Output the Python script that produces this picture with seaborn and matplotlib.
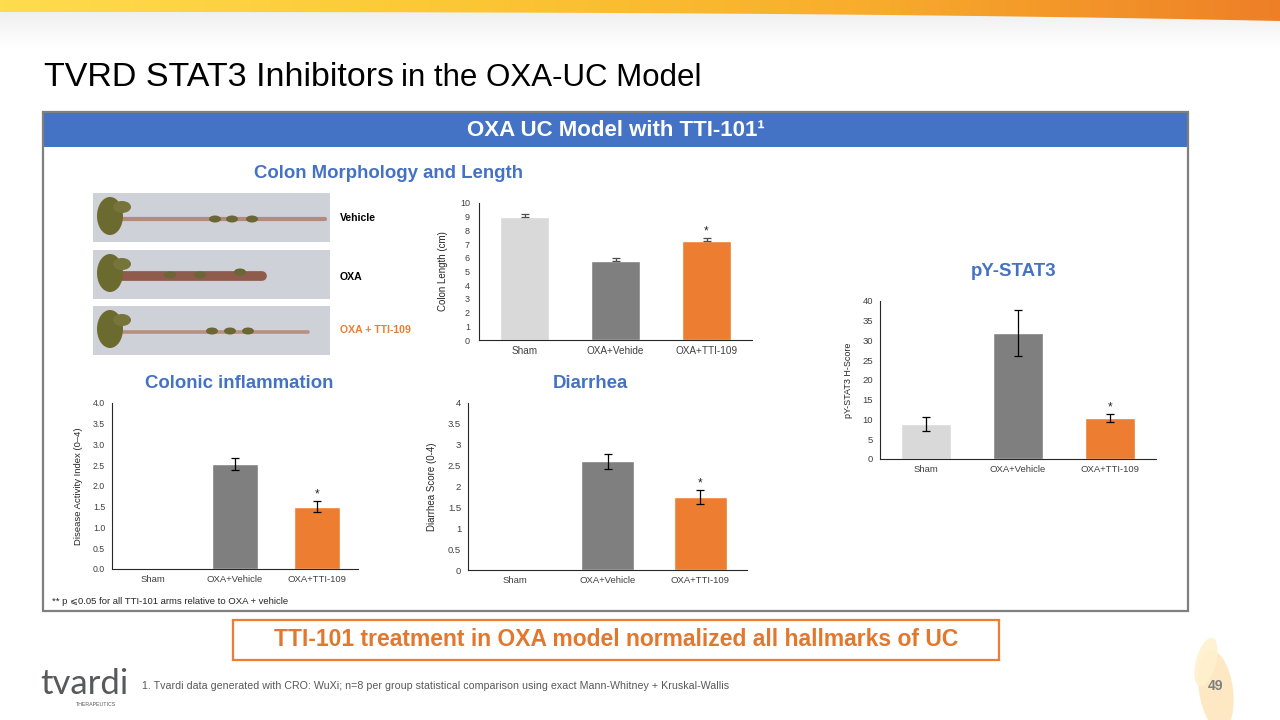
import numpy as np
import pandas as pd
import matplotlib
matplotlib.use("Agg")
import matplotlib.pyplot as plt
import seaborn as sns
from matplotlib.patches import Rectangle, Ellipse, Polygon
from matplotlib.colors import LinearSegmentedColormap

# ---------------- data ----------------
groups_len = ["Sham", "OXA+Vehide", "OXA+TTI-109"]
groups = ["Sham", "OXA+Vehicle", "OXA+TTI-109"]
bar_colors = ["#D9D9D9", "#7F7F7F", "#ED7D31"]

colon_length = [9.0, 5.77, 7.23]
colon_length_err = [0.18, 0.19, 0.19]

dai = [0.0, 2.53, 1.50]
dai_err = [0.0, 0.14, 0.13]

diarrhea = [0.0, 2.61, 1.75]
diarrhea_err = [0.0, 0.18, 0.17]

pystat3 = [8.9, 31.9, 10.35]
pystat3_err = [1.8, 5.7, 1.0]

significant = [False, False, True]

dai_ticks = [0.0, 0.5, 1.0, 1.5, 2.0, 2.5, 3.0, 3.5, 4.0]
diarrhea_ticks = [0, 0.5, 1, 1.5, 2, 2.5, 3, 3.5, 4]
length_ticks = [0, 1, 2, 3, 4, 5, 6, 7, 8, 9, 10]
stat_ticks = [0, 5, 10, 15, 20, 25, 30, 35, 40]

# ---------------- style ----------------
sns.set_style("white")
plt.rcParams["font.family"] = ["Liberation Sans", "DejaVu Sans"]

W, H = 1280, 720
fig = plt.figure(figsize=(12.8, 7.2), dpi=100)
fig.patch.set_facecolor("white")

bg = fig.add_axes([0, 0, 1, 1])
bg.set_axis_off()

# top banner gradient
grad = np.linspace(0, 1, 256).reshape(1, -1)
cmap = LinearSegmentedColormap.from_list("banner", ["#FFDC4E", "#FCC936", "#F8AE2C", "#EE7F27"])
shadow = np.zeros((60, 1, 4))
shadow[..., :3] = 0.82
shadow[:, 0, 3] = np.linspace(0.35, 0.0, 60)
bg.imshow(shadow, extent=[0, W, 48, 10], aspect="auto", zorder=1)
im = bg.imshow(grad, extent=[0, W, 24, 0], cmap=cmap, aspect="auto", zorder=2)
xs = np.linspace(0, W, 60)
bottom_edge = 12 + 9 * (xs / W) ** 3
clip = Polygon(np.vstack([[0, 0], [W, 0], np.column_stack([xs[::-1], bottom_edge[::-1]])]),
               closed=True, transform=bg.transData, fc="none", ec="none")
bg.add_patch(clip)
im.set_clip_path(clip)

# title
t1 = bg.text(44, 86, "TVRD STAT3 Inhibitors", fontsize=24.5, color="black", va="baseline", ha="left")
bg.annotate("in the OXA-UC Model", xy=(1, 0), xycoords=t1, xytext=(5, 0),
            textcoords="offset points", fontsize=22.5, va="bottom", ha="left", color="black")

# main box and header
bg.add_patch(Rectangle((44, 113), 1143, 34, fc="#4472C4", ec="none", zorder=2))
bg.add_patch(Rectangle((43, 112), 1145, 499, fc="none", ec="#7F7F7F", lw=1.6, zorder=3))
bg.text(616, 131, "OXA UC Model with TTI-101¹", fontsize=16, fontweight="bold", color="white",
        ha="center", va="center", zorder=4)

# section titles
sec = dict(fontsize=13.4, fontweight="bold", color="#4472C4", ha="center", va="center")
bg.text(388, 173, "Colon Morphology and Length", **sec)
bg.text(1014, 272, "pY-STAT3", **sec)
bg.text(239, 383, "Colonic inflammation", **sec)
bg.text(590, 383, "Diarrhea", **sec)

# colon photos (schematic)
photo_rows = [(193, 325, 3.0, "#B38A7C"), (250, 262, 7.0, "#8E5B4C"), (306, 308, 2.6, "#B88F80")]
for (top, end, lw, tube) in photo_rows:
    bg.add_patch(Rectangle((93, top), 237, 49, fc="#CED1D7", ec="none", zorder=2))
    cy = top + 26
    bg.plot([112, end], [cy, cy], color=tube, lw=lw, solid_capstyle="round", zorder=3)
    bg.add_patch(Ellipse((110, cy - 3), 26, 38, fc="#6C6B2F", ec="none", zorder=4))
    bg.add_patch(Ellipse((122, cy - 12), 18, 12, fc="#77743A", ec="none", zorder=4))
for (x0, y0) in [(215, 219), (232, 219), (252, 219), (170, 275), (200, 275), (240, 272),
                 (212, 331), (230, 331), (248, 331)]:
    bg.add_patch(Ellipse((x0, y0), 12, 7, fc="#6B6636", ec="none", zorder=4))

lab = dict(fontsize=7.6, fontweight="bold", va="center", ha="left")
bg.text(340, 218, "Vehicle", color="black", **lab)
bg.text(340, 277, "OXA", color="black", **lab)
bg.text(340, 330, "OXA + TTI-109", color="#ED7D31", **lab)

# footnotes
bg.text(52, 601, "** p ⩽0.05 for all TTI-101 arms relative to OXA + vehicle", fontsize=6.8,
        color="#262626", ha="left", va="center", family=["Liberation Sans", "DejaVu Sans"])

bg.add_patch(Rectangle((233, 620), 766, 40, fc="white", ec="#ED7D31", lw=1.6, zorder=2))
bg.text(616, 640, "TTI-101 treatment in OXA model normalized all hallmarks of UC", fontsize=16.5,
        fontweight="bold", color="#E2772E", ha="center", va="center", zorder=3)

bg.text(142, 686, "1. Tvardi data generated with CRO: WuXi; n=8 per group statistical comparison using exact Mann-Whitney + Kruskal-Wallis",
        fontsize=7.65, color="#595959", ha="left", va="center")

# logo
bg.text(40, 700, "tvardi", fontsize=25, color="#58595B", ha="left", va="bottom", family=["Lato", "DejaVu Sans"])
bg.text(76, 702, "THERAPEUTICS", fontsize=3.8, color="#58595B", ha="left", va="top")

# flame decoration + page number
bg.add_patch(Ellipse((1216, 690), 34, 80, angle=-8, fc="#FDE6BD", ec="none", alpha=0.9, zorder=1))
bg.add_patch(Ellipse((1206, 662), 20, 50, angle=15, fc="#FFF1CF", ec="none", alpha=0.9, zorder=1))
bg.text(1216, 686, "49", fontsize=10, fontweight="bold", color="#7F7F7F", ha="center", va="center", zorder=3)

bg.set_xlim(0, W)
bg.set_ylim(H, 0)


# ---------------- charts ----------------
def px_axes(l, t, r, b):
    return fig.add_axes([l / W, 1 - b / H, (r - l) / W, (b - t) / H])


def draw_chart(rect, cats, vals, errs, ylim, ticks, fmt, ylabel, upper_only, ecolor,
               width, xfs, yfs, lfs, ypad, lab_dx):
    ax = px_axes(*rect)
    ax.set_facecolor("none")
    df = pd.DataFrame({"group": cats, "value": vals})
    sns.barplot(data=df, x="group", y="value", hue="group", palette=bar_colors,
                width=width, saturation=1, errorbar=None, legend=False, ax=ax)
    xi = [i for i, e in enumerate(errs) if e > 0]
    yv = [vals[i] for i in xi]
    ev = [errs[i] for i in xi]
    yerr = [[0] * len(ev), ev] if upper_only else ev
    ax.errorbar(xi, yv, yerr=yerr, fmt="none", ecolor=ecolor, elinewidth=0.9,
                capsize=3.2, capthick=0.9, zorder=5)
    for i, s in enumerate(significant):
        if s:
            ax.annotate("*", xy=(i, vals[i] + errs[i]), xytext=(0, 0.5), textcoords="offset points",
                        ha="center", va="bottom", fontsize=8.5, color="#262626")
    ax.set_xlim(-0.5, 2.5)
    ax.set_ylim(*ylim)
    ax.set_yticks(ticks)
    ax.set_yticklabels([fmt.format(t) for t in ticks])
    ax.set_xlabel("")
    ax.set_ylabel(ylabel, fontsize=lfs, color="#262626")
    ax.yaxis.set_label_coords(-lab_dx / (rect[2] - rect[0]), 0.5)
    ax.tick_params(axis="both", length=0, colors="#404040")
    ax.tick_params(axis="x", labelsize=xfs, pad=4)
    ax.tick_params(axis="y", labelsize=yfs, pad=ypad)
    for side in ["top", "right"]:
        ax.spines[side].set_visible(False)
    for side in ["left", "bottom"]:
        ax.spines[side].set_color("#262626")
        ax.spines[side].set_linewidth(0.8)
    return ax


draw_chart((479, 203, 752, 340), groups_len, colon_length, colon_length_err, (0, 10), length_ticks,
           "{:.0f}", "Colon Length (cm)", True, "#4D4D4D", 0.54, 7.2, 6.5, 7.0, 6.5, 31)
draw_chart((112, 403, 358, 569), groups, dai, dai_err, (0, 4), dai_ticks,
           "{:.1f}", "Disease Activity Index (0–4)", False, "black", 0.55, 6.8, 6.3, 6.8, 5, 29)
draw_chart((468, 403, 747, 570), groups, diarrhea, diarrhea_err, (0, 4), diarrhea_ticks,
           "{:g}", "Diarrhea Score (0-4)", False, "black", 0.56, 6.8, 6.8, 7.0, 5, 31)
draw_chart((880, 301, 1156, 459), groups, pystat3, pystat3_err, (0, 40), stat_ticks,
           "{:.0f}", "pY-STAT3 H-Score", False, "black", 0.55, 6.8, 6.8, 6.5, 5, 27)

fig.savefig("out.png", dpi=100, facecolor="white")
